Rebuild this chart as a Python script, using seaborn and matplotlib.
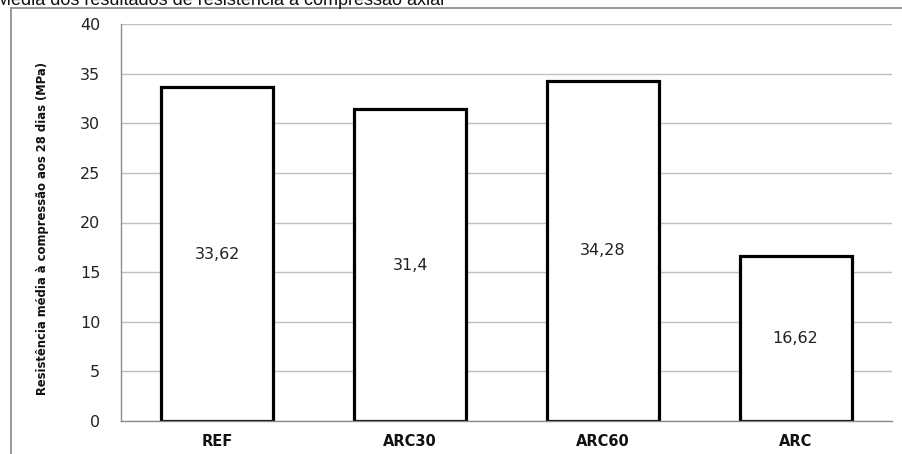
import matplotlib
matplotlib.use("Agg")
import matplotlib.pyplot as plt
import seaborn as sns
import pandas as pd
from matplotlib.lines import Line2D

# Mean compressive strength at 28 days per mix
categories = ["REF", "ARC30", "ARC60", "ARC"]
strength = [33.62, 31.4, 34.28, 16.62]
value_labels = ["33,62", "31,4", "34,28", "16,62"]
y_ticks = [0, 5, 10, 15, 20, 25, 30, 35, 40]

sns.set_theme(style="white")
plt.rcParams["font.family"] = ["DejaVu Sans"]

df = pd.DataFrame({"mix": categories, "mpa": strength})

W, H = 902, 454
fig = plt.figure(figsize=(W / 100, H / 100), dpi=100)
ax = fig.add_axes([121 / W, 1 - 421 / H, (892 - 121) / W, (421 - 24) / H])

sns.barplot(data=df, x="mix", y="mpa", order=categories, color="white",
            edgecolor="black", linewidth=2.3, width=0.58, saturation=1,
            ax=ax, zorder=3)

for bar in ax.patches:
    bar.set_facecolor("white")
    bar.set_edgecolor("black")
    bar.set_joinstyle("miter")

ax.bar_label(ax.containers[0], labels=value_labels, label_type="center",
             fontsize=11.5, color="#222222", zorder=4)

ax.set_ylim(0, 40)
ax.set_xlim(-0.5, len(categories) - 0.5)
ax.set_yticks(y_ticks)
ax.set_yticklabels([str(t) for t in y_ticks], fontsize=11.5, color="#222222")
ax.yaxis.grid(True, color="#c0c0c0", linewidth=1, zorder=0)
ax.set_axisbelow(True)
ax.tick_params(axis="y", length=0, pad=15)
ax.tick_params(axis="x", length=0, pad=9)
for lbl in ax.get_xticklabels():
    lbl.set_fontweight("bold")
    lbl.set_fontsize(10.5)
    lbl.set_color("#111111")

for side in ["top", "right"]:
    ax.spines[side].set_visible(False)
for side in ["left", "bottom"]:
    ax.spines[side].set_color("#8c8c8c")
    ax.spines[side].set_linewidth(1.0)
    ax.spines[side].set_zorder(5)

ax.set_xlabel("")
ax.set_ylabel("Resistência média à compressão aos 28 dias (MPa)",
              fontsize=9.3, fontweight="bold", fontstretch="condensed",
              color="#111111")
ax.yaxis.set_label_coords((42 - 121) / 771, 0.485)
ax.yaxis.label.set_va("center")

# Chart frame (left and top edges)
fig.add_artist(Line2D([11 / W, 11 / W], [0, 1 - 8 / H], transform=fig.transFigure,
                      color="#888888", linewidth=1.2))
fig.add_artist(Line2D([11 / W, 1], [1 - 8 / H, 1 - 8 / H], transform=fig.transFigure,
                      color="#888888", linewidth=1.2))

# Caption running off the top edge
fig.text(-4 / W, 1 - 5 / H, "Média dos resultados de resistência à compressão axial",
         fontsize=13, family=["Liberation Sans", "DejaVu Sans"], color="#111111",
         ha="left", va="baseline")

fig.savefig("out.png", dpi=100)
